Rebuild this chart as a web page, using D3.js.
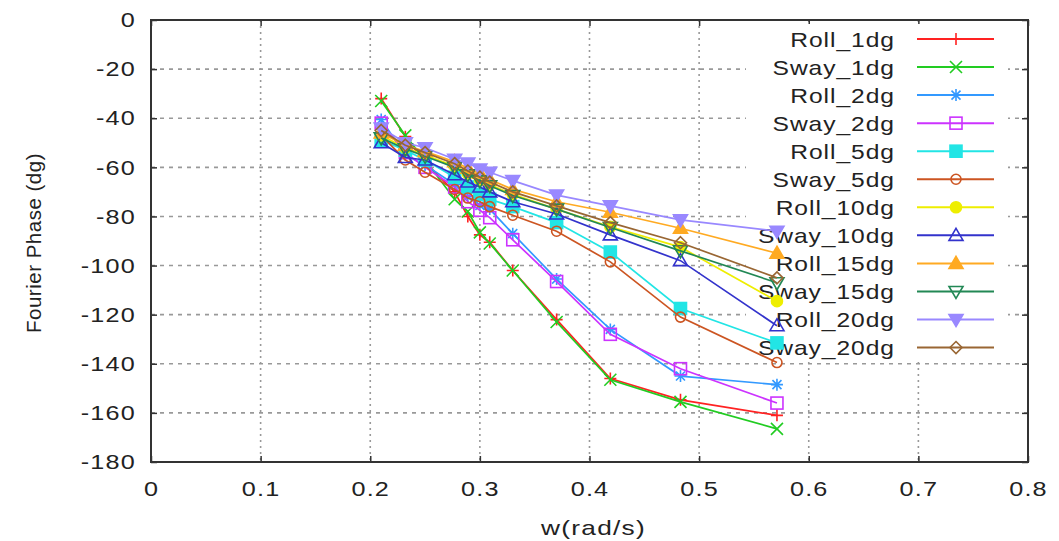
<!DOCTYPE html>
<html>
<head>
<meta charset="utf-8">
<script src="https://cdn.jsdelivr.net/npm/d3@7"></script>
<style>
  html, body { margin: 0; padding: 0; background: #fff; }
  svg text { font-family: "Liberation Sans", Arial, sans-serif; fill: #222; }
</style>
</head>
<body>
<svg id="chart" width="1059" height="541"></svg>
<script>
// ---------- data ----------
const freqs = [0.21, 0.232, 0.25, 0.277, 0.289, 0.30, 0.309, 0.33, 0.37, 0.419, 0.483, 0.571];
const seriesNames = ["Roll_1dg","Sway_1dg","Roll_2dg","Sway_2dg","Roll_5dg","Sway_5dg","Roll_10dg","Sway_10dg","Roll_15dg","Sway_15dg","Roll_20dg","Sway_20dg"];
const roll1  = [-32, -47.5, -58, -70, -80, -87.5, -90.5, -102, -122, -146, -154.7, -161];
const sway1  = [-33, -47, -57, -73, -78, -86.5, -91, -102, -123, -146.5, -155.5, -166.5];
const roll2  = [-40.5, -55, -59, -67, -72, -75.5, -77, -87, -105.5, -126, -145, -148.5];
const sway2  = [-42, -54, -60, -68, -74, -77.5, -80.5, -89.5, -106.5, -128, -142, -156];
const roll5  = [-49, -53, -57, -64, -68, -71, -73, -76, -82.5, -94.5, -117.5, -131.5];
const sway5  = [-47, -57, -62, -69, -72.5, -74, -76, -79.5, -86, -98.5, -121, -139.5];
const roll10 = [-47, -52, -55, -59.5, -62.5, -65, -67, -71, -77, -84.2, -92.5, -114.5];
const sway10 = [-50, -56, -57, -63, -66, -68, -70, -74, -79, -87.5, -98, -124.5];
const roll15 = [-46, -51, -53.5, -57.7, -60.4, -62.4, -65, -69, -74, -78.3, -84.8, -95];
const sway15 = [-48, -52.5, -55.5, -60, -63, -65.5, -67.5, -71.5, -77, -84.5, -94, -107];
const roll20 = [-44, -50, -52, -56.7, -58.3, -60.7, -62, -65.4, -71.3, -75.7, -81.4, -86];
const sway20 = [-45, -51, -54, -58.5, -61.5, -64, -66, -70, -75.7, -82.5, -90.7, -105];
const seriesValues = [roll1, sway1, roll2, sway2, roll5, sway5, roll10, sway10, roll15, sway15, roll20, sway20];
const xTicks = [0, 0.1, 0.2, 0.3, 0.4, 0.5, 0.6, 0.7, 0.8];
const yTicks = [0, -20, -40, -60, -80, -100, -120, -140, -160, -180];
const xTitle = "w(rad/s)";
const yTitle = "Fourier Phase (dg)";

// ---------- styles ----------
const colors = ["#ff2222","#22cc22","#3399ff","#cc33ff","#22e5e5","#cc5522","#eeee00","#3333cc","#ffaa22","#228855","#9988ff","#996633"];
const markers = ["plus","cross","star","sqO","sqF","cirO","cirF","triO","triF","itriO","itriF","diaO"];
const SX = 1.2; // horizontal glyph stretch seen in the reference

const svg = d3.select("#chart");
const L = 151, R = 1028, T = 20, B = 462;
const x = d3.scaleLinear().domain([0, 0.8]).range([L, R]);
const y = d3.scaleLinear().domain([-180, 0]).range([B, T]);

// grid
const grid = svg.append("g");
grid.selectAll(".gx").data(xTicks.slice(1, -1)).enter().append("line")
  .attr("x1", d => x(d)).attr("x2", d => x(d)).attr("y1", T).attr("y2", B)
  .attr("stroke", "#999").attr("stroke-width", 1.6).attr("stroke-dasharray", "2,4");
grid.selectAll(".gy").data(yTicks.slice(1, -1)).enter().append("line")
  .attr("x1", L).attr("x2", R).attr("y1", d => y(d)).attr("y2", d => y(d))
  .attr("stroke", "#999").attr("stroke-width", 1.6).attr("stroke-dasharray", "4,5");

// axes via d3 (inward ticks)
const fmtX = d => d === 0 ? "0" : d3.format(".1f")(d);
const fmtY = d => String(d);
const xAxis = svg.append("g").attr("transform", `translate(0,${B})`)
  .call(d3.axisBottom(x).tickValues(xTicks).tickFormat(fmtX).tickSizeInner(-6).tickSizeOuter(0).tickPadding(19));
const yAxis = svg.append("g").attr("transform", `translate(${L},0)`)
  .call(d3.axisLeft(y).tickValues(yTicks).tickFormat(fmtY).tickSizeInner(-6).tickSizeOuter(0).tickPadding(15));
[xAxis, yAxis].forEach(g => {
  g.select(".domain").remove();
  g.selectAll(".tick line").attr("stroke", "#333").attr("stroke-width", 1.5);
  g.selectAll(".tick text").attr("font-size", 21).attr("fill", "#222")
    .style("font-family", "'Liberation Sans', Arial, sans-serif").style("letter-spacing", "1px")
    .each(function () {
      const t = d3.select(this);
      const xv = +t.attr("x") || 0;
      t.attr("x", 0).attr("transform", `translate(${xv},0) scale(${SX},1)`);
    });
});
// mirror ticks
const yR = svg.append("g").attr("transform", `translate(${R},0)`)
  .call(d3.axisRight(y).tickValues(yTicks).tickFormat("").tickSizeInner(-6).tickSizeOuter(0));
const xT = svg.append("g").attr("transform", `translate(0,${T})`)
  .call(d3.axisTop(x).tickValues(xTicks).tickFormat("").tickSizeInner(-6).tickSizeOuter(0));
[yR, xT].forEach(g => { g.select(".domain").remove(); g.selectAll(".tick line").attr("stroke", "#333").attr("stroke-width", 1.5); });

// titles
svg.append("text").attr("transform", `translate(${(L + R) / 2 + 4},535) scale(1.25,1)`).attr("text-anchor", "middle")
  .attr("font-size", 21).style("letter-spacing", "1px").text(xTitle);
svg.append("text").attr("transform", `translate(41,${(T + B) / 2 + 2}) rotate(-90)`).attr("text-anchor", "middle")
  .attr("font-size", 20.5).style("letter-spacing", "0.5px").text(yTitle);

// legend background
const legX0 = 746, legY0 = 24, legW = 262, legH = 336;
svg.append("rect").attr("x", legX0).attr("y", legY0).attr("width", legW).attr("height", legH).attr("fill", "#fff");

// marker drawing
function drawMarker(g, kind, cx, cy, color) {
  const s = 6;
  const sw = 1.6;
  if (kind === "plus") {
    g.append("path").attr("d", `M${cx - s},${cy}H${cx + s}M${cx},${cy - s}V${cy + s}`).attr("stroke", color).attr("stroke-width", sw).attr("fill", "none");
  } else if (kind === "cross") {
    g.append("path").attr("d", `M${cx - s},${cy - s}L${cx + s},${cy + s}M${cx - s},${cy + s}L${cx + s},${cy - s}`).attr("stroke", color).attr("stroke-width", sw).attr("fill", "none");
  } else if (kind === "star") {
    g.append("path").attr("d", `M${cx - s},${cy}H${cx + s}M${cx},${cy - s}V${cy + s}M${cx - s * 0.75},${cy - s * 0.75}L${cx + s * 0.75},${cy + s * 0.75}M${cx - s * 0.75},${cy + s * 0.75}L${cx + s * 0.75},${cy - s * 0.75}`).attr("stroke", color).attr("stroke-width", sw).attr("fill", "none");
  } else if (kind === "sqO" || kind === "sqF") {
    g.append("rect").attr("x", cx - s).attr("y", cy - s).attr("width", 2 * s).attr("height", 2 * s)
      .attr("fill", kind === "sqF" ? color : "none").attr("stroke", color).attr("stroke-width", sw);
  } else if (kind === "cirO" || kind === "cirF") {
    g.append("circle").attr("cx", cx).attr("cy", cy).attr("r", kind === "cirF" ? 5.5 : 5)
      .attr("fill", kind === "cirF" ? color : "none").attr("stroke", color).attr("stroke-width", sw);
  } else if (kind === "triO" || kind === "triF") {
    g.append("path").attr("d", `M${cx},${cy - s - 1}L${cx + s + 1},${cy + s - 1}L${cx - s - 1},${cy + s - 1}Z`)
      .attr("fill", kind === "triF" ? color : "none").attr("stroke", color).attr("stroke-width", sw);
  } else if (kind === "itriO" || kind === "itriF") {
    g.append("path").attr("d", `M${cx},${cy + s + 1}L${cx + s + 1},${cy - s + 1}L${cx - s - 1},${cy - s + 1}Z`)
      .attr("fill", kind === "itriF" ? color : "none").attr("stroke", color).attr("stroke-width", sw);
  } else if (kind === "diaO") {
    g.append("path").attr("d", `M${cx},${cy - s}L${cx + s},${cy}L${cx},${cy + s}L${cx - s},${cy}Z`)
      .attr("fill", "none").attr("stroke", color).attr("stroke-width", sw);
  }
}

// legend entries
const legTextX = 895, legLineX1 = 917, legLineX2 = 994, legMarkX = 956, legY = 39, legStep = 28.05;
const legend = svg.append("g");
seriesNames.forEach((name, i) => {
  const cy = legY + i * legStep;
  legend.append("text").attr("transform", `translate(${legTextX},${cy + 7.5}) scale(${SX},1)`).attr("text-anchor", "end")
    .attr("font-size", 20.5).style("letter-spacing", "0.8px").text(name);
  legend.append("line").attr("x1", legLineX1).attr("x2", legLineX2).attr("y1", cy).attr("y2", cy)
    .attr("stroke", colors[i]).attr("stroke-width", 2);
  drawMarker(legend, markers[i], legMarkX, cy, colors[i]);
});

// data
const line = d3.line().x((d, j) => x(freqs[j])).y(d => y(d));
const plot = svg.append("g");
seriesValues.forEach((vals, i) => {
  const g = plot.append("g");
  g.append("path").datum(vals).attr("d", line).attr("fill", "none").attr("stroke", colors[i]).attr("stroke-width", 1.7);
  vals.forEach((v, j) => drawMarker(g, markers[i], x(freqs[j]), y(v), colors[i]));
});

// frame
svg.append("rect").attr("x", L).attr("y", T).attr("width", R - L).attr("height", B - T)
  .attr("fill", "none").attr("stroke", "#333").attr("stroke-width", 2);
</script>
</body>
</html>
